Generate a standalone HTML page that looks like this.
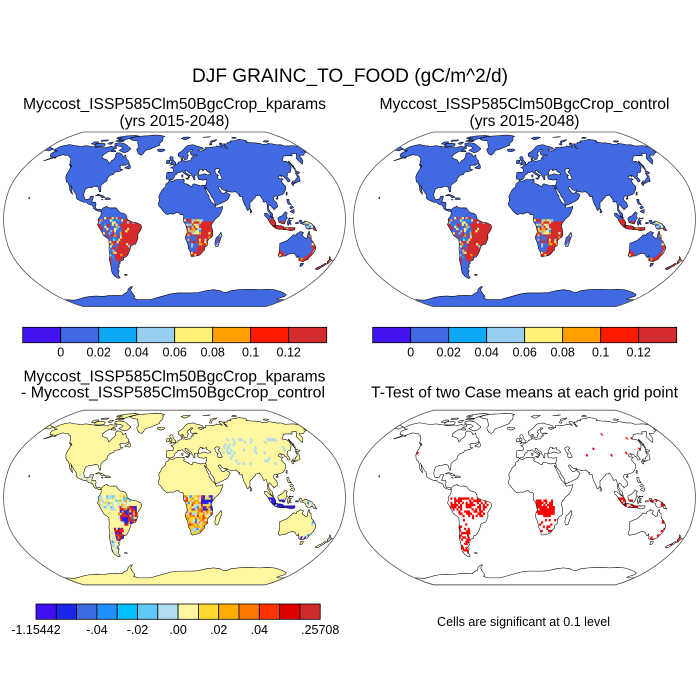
<!DOCTYPE html>
<html><head><meta charset="utf-8"><style>
html,body{margin:0;padding:0;background:#fff;}
svg{display:block;}
text{font-family:"Liberation Sans",Arial,Helvetica,sans-serif;fill:#000;}
</style></head><body>
<svg id="s" width="700" height="700" viewBox="0 0 700 700" xmlns="http://www.w3.org/2000/svg">
<rect width="700" height="700" fill="#fff"/>
<defs><clipPath id="lc"></clipPath></defs>
<g id="maps"></g>

<text x="350" y="82" font-size="19" text-anchor="middle" textLength="316" lengthAdjust="spacingAndGlyphs">DJF GRAINC_TO_FOOD (gC/m^2/d)</text>

<text x="174.5" y="109" font-size="15.6" text-anchor="middle" textLength="303" lengthAdjust="spacingAndGlyphs">Myccost_ISSP585Clm50BgcCrop_kparams</text>
<text x="174.5" y="126" font-size="15.6" text-anchor="middle" textLength="110" lengthAdjust="spacingAndGlyphs">(yrs 2015-2048)</text>
<text x="524.5" y="109" font-size="15.6" text-anchor="middle" textLength="290" lengthAdjust="spacingAndGlyphs">Myccost_ISSP585Clm50BgcCrop_control</text>
<text x="524.5" y="126" font-size="15.6" text-anchor="middle" textLength="110" lengthAdjust="spacingAndGlyphs">(yrs 2015-2048)</text>

<text x="174.5" y="381.5" font-size="15.6" text-anchor="middle" textLength="302" lengthAdjust="spacingAndGlyphs">Myccost_ISSP585Clm50BgcCrop_kparams</text>
<text x="173" y="397.5" font-size="15.6" text-anchor="middle" textLength="304" lengthAdjust="spacingAndGlyphs">- Myccost_ISSP585Clm50BgcCrop_control</text>
<text x="524.5" y="397.5" font-size="15.6" text-anchor="middle" textLength="307" lengthAdjust="spacingAndGlyphs">T-Test of two Case means at each grid point</text>

<text x="523.5" y="626" font-size="12.5" text-anchor="middle" textLength="173" lengthAdjust="spacingAndGlyphs">Cells are significant at 0.1 level</text>

<!-- top-left colorbar -->
<g stroke="#000" stroke-width="0.8">
<rect x="22.7" y="327.3" width="38" height="15.4" fill="#4312f0"/>
<rect x="60.7" y="327.3" width="38" height="15.4" fill="#4169e1"/>
<rect x="98.7" y="327.3" width="38" height="15.4" fill="#0aa8f5"/>
<rect x="136.7" y="327.3" width="38" height="15.4" fill="#96d0ee"/>
<rect x="174.7" y="327.3" width="38" height="15.4" fill="#fff07a"/>
<rect x="212.7" y="327.3" width="38" height="15.4" fill="#ffa000"/>
<rect x="250.7" y="327.3" width="38" height="15.4" fill="#ff1a00"/>
<rect x="288.7" y="327.3" width="38" height="15.4" fill="#d42c2c"/>
</g>
<g font-size="12.5" text-anchor="middle">
<text x="60.7" y="356.5">0</text><text x="98.7" y="356.5">0.02</text><text x="136.7" y="356.5">0.04</text><text x="174.7" y="356.5">0.06</text><text x="212.7" y="356.5">0.08</text><text x="250.7" y="356.5">0.1</text><text x="288.7" y="356.5">0.12</text>
</g>
<!-- top-right colorbar -->
<g stroke="#000" stroke-width="0.8">
<rect x="372.7" y="327.3" width="38" height="15.4" fill="#4312f0"/>
<rect x="410.7" y="327.3" width="38" height="15.4" fill="#4169e1"/>
<rect x="448.7" y="327.3" width="38" height="15.4" fill="#0aa8f5"/>
<rect x="486.7" y="327.3" width="38" height="15.4" fill="#96d0ee"/>
<rect x="524.7" y="327.3" width="38" height="15.4" fill="#fff07a"/>
<rect x="562.7" y="327.3" width="38" height="15.4" fill="#ffa000"/>
<rect x="600.7" y="327.3" width="38" height="15.4" fill="#ff1a00"/>
<rect x="638.7" y="327.3" width="38" height="15.4" fill="#d42c2c"/>
</g>
<g font-size="12.5" text-anchor="middle">
<text x="410.7" y="356.5">0</text><text x="448.7" y="356.5">0.02</text><text x="486.7" y="356.5">0.04</text><text x="524.7" y="356.5">0.06</text><text x="562.7" y="356.5">0.08</text><text x="600.7" y="356.5">0.1</text><text x="638.7" y="356.5">0.12</text>
</g>
<!-- bottom-left colorbar -->
<g stroke="#000" stroke-width="0.8">
<rect x="36" y="604" width="20.3" height="15.3" fill="#4010f0"/>
<rect x="56.3" y="604" width="20.3" height="15.3" fill="#1a26e8"/>
<rect x="76.6" y="604" width="20.3" height="15.3" fill="#3c6ae0"/>
<rect x="96.9" y="604" width="20.3" height="15.3" fill="#1e90ff"/>
<rect x="117.2" y="604" width="20.3" height="15.3" fill="#00bfff"/>
<rect x="137.5" y="604" width="20.3" height="15.3" fill="#60c8f5"/>
<rect x="157.8" y="604" width="20.3" height="15.3" fill="#b0dcf0"/>
<rect x="178.1" y="604" width="20.3" height="15.3" fill="#fff6a0"/>
<rect x="198.4" y="604" width="20.3" height="15.3" fill="#ffd830"/>
<rect x="218.7" y="604" width="20.3" height="15.3" fill="#ffac00"/>
<rect x="239" y="604" width="20.3" height="15.3" fill="#ff7800"/>
<rect x="259.3" y="604" width="20.3" height="15.3" fill="#ff3200"/>
<rect x="279.6" y="604" width="20.3" height="15.3" fill="#e00000"/>
<rect x="299.9" y="604" width="20.3" height="15.3" fill="#d02a2a"/>
</g>
<g font-size="12.5" text-anchor="middle">
<text x="36" y="634">-1.15442</text><text x="96.9" y="634">-.04</text><text x="137.5" y="634">-.02</text><text x="178.1" y="634">.00</text><text x="218.7" y="634">.02</text><text x="259.3" y="634">.04</text><text x="320.2" y="634">.25708</text>
</g>
</svg>
<script>
(function(){
var T=[[1,0],[.9986,.062],[.9954,.124],[.99,.186],[.9822,.248],[.973,.31],[.96,.372],[.9427,.434],[.9216,.4958],[.8962,.5571],[.8679,.6176],[.835,.6769],[.7986,.7346],[.7597,.7903],[.7186,.8435],[.6732,.8936],[.6213,.9394],[.5722,.9761],[.5322,1]];
var HW=171,HH=87.3;
function P(lon,lat){var a=Math.min(Math.abs(lat),90);var i=Math.floor(a/5);if(i>17)i=17;var f=(a-i*5)/5;var X=T[i][0]+(T[i+1][0]-T[i][0])*f;var Y=T[i][1]+(T[i+1][1]-T[i][1])*f;return [HW*X*lon/180,-(lat<0?-1:1)*HH*Y];}
function path(pts){var s='';for(var i=0;i<pts.length;i++){var q=P(pts[i][0],pts[i][1]);s+=(i?'L':'M')+q[0].toFixed(2)+' '+q[1].toFixed(2);}return s+'Z';}
function pairs(f){var r=[];for(var i=0;i<f.length;i+=2)r.push([f[i],f[i+1]]);return r;}

var NA=[-168,65.5,-166,68.5,-162,70,-156,71.3,-152,70.8,-145,70,-141,69.7,-136,69,-130,70,-124,69.5,-117,68.8,-110,68,-103,68,-98,67.8,-95,68.5,-92,69.5,-88,68.5,-85,69.5,-82,67,-86,66.5,-87,64,-90,63.8,-93,61.5,-94.5,59,-92.5,57,-88,56,-85,55.3,-82,53,-80.5,51.5,-79,54.5,-77,56,-76.5,58,-78,60.5,-78,62.5,-74,62.3,-70,61,-67,58.5,-64.5,60.3,-61.5,56.5,-58,54.5,-56,52,-59,50.2,-64,50.3,-66.5,49.3,-65,48.5,-64.5,46.5,-61,46,-63.5,44.7,-66,44,-70,43.5,-70,41.7,-74,40.5,-75.5,38.5,-76,37,-75.5,35.5,-77.5,34.3,-79,33.3,-81,31.5,-80.2,27,-80,25.5,-81.2,25.3,-82.6,27.8,-84,30,-86,30.4,-89,30.2,-90.5,29.2,-94,29.5,-97.2,27.8,-97.5,25,-97.8,22.5,-96,19,-94.5,18.2,-91,18.8,-90.3,21,-87,21.5,-87.5,18,-88.3,15.8,-84,15.8,-83.3,14,-83.7,11,-82,9,-79.5,9.5,-77.5,8.5,-78,7.2,-80,7.3,-81,7.8,-83,8.3,-85.7,10,-85.7,11.2,-87.5,13,-91.5,14,-94,16,-96.5,15.7,-100,16.9,-103.5,18.3,-105.5,20,-105.2,21.8,-106,23,-108.5,25.3,-112,28.8,-114.8,31.8,-113.5,30.5,-112.5,28,-111,25.5,-109.9,22.9,-112,24.8,-114.2,27.2,-115,29.8,-117.1,32.5,-118.5,34,-120.6,34.6,-122.4,37.2,-123.8,39.5,-124.3,42,-124,46,-124.7,48.4,-123,48.5,-126,50,-128,51,-130,54,-133,57,-137,58.5,-140,59.8,-144,60,-148,60.5,-152,59,-154,58,-158,56.5,-162,55,-164.5,54.5,-160,56.5,-157.5,58.5,-162,58.7,-164.5,60.5,-165.5,62,-164.5,63.2,-161,64.5,-165,64.5];
var SA=[-77.5,8.5,-75.5,10.5,-73,11.5,-71.5,12.4,-71,11,-68,10.5,-64,10.6,-61.5,10.5,-60,8.5,-57,6,-54,5.7,-51.5,4.5,-50,1.8,-50,0,-48,-1,-44.5,-2.5,-41,-3,-38.5,-3.7,-35.3,-5.2,-34.8,-7.5,-35.5,-9.5,-37.5,-12,-39,-14,-39,-17.5,-40.5,-20.5,-42,-23,-44.5,-23.3,-47.5,-25,-48.5,-28,-50,-30.5,-52.5,-33.5,-54,-34.7,-57,-35.5,-57.5,-37.5,-62,-39,-62.5,-41,-65,-42,-64,-43,-65.5,-45,-67.5,-46,-66,-47.5,-68.5,-50.5,-69,-52.3,-68,-54.5,-71,-55,-74,-53,-75.5,-50,-75,-47,-74,-43.5,-73.5,-40,-73.5,-37,-71.5,-32.5,-71.5,-28,-70.5,-24,-70.2,-19,-71.5,-17.5,-75.5,-15,-77,-12,-79.5,-7.5,-81.2,-5,-80,-2.5,-80.5,-0.5,-79.8,1,-78.8,1.8,-77.5,4,-77.3,7];
var EU=[-9,37,-9.5,39,-8.8,42,-9,43.2,-7,43.6,-2,43.4,-1.4,44.5,-1.2,46,-2.5,47.3,-4.5,47.9,-1.8,48.7,-1.5,49.7,0.2,49.7,1.6,50.9,3.5,51.4,4.5,52.5,5,53.3,7,53.5,8.5,53.8,8.6,55.5,8.2,57,10.5,57.7,10.8,56,10,55.5,11,54.4,13,54.4,14.5,53.9,17,54.6,19.5,54.4,21,55.5,21.2,57,22.5,57.6,24,57.2,24.3,57.8,23.5,58.8,24.5,59.4,28,59.5,30,59.9,29,60.2,26.5,60.4,23,59.9,21.5,61,21.2,62.5,22,63.5,25,65,25.5,65.5,22.5,65.8,21.5,64.5,19.5,63.5,17.5,62.3,17,61,18.5,60,16.5,57.5,16.5,56.3,14.3,55.6,12.8,55.6,12.3,56.5,11,58.9,10,59,8,58.1,6,58.3,5,59.5,5,61.8,7.5,63,10,64,12,65.5,14,67,16,68.5,19,70,23,70.6,26,71,28.5,70.9,31,70,33,69.3,36,69,40,67.8,41,66.5,38,66,34.5,66,33,65.5,35,64.3,37,64,37.5,64.8,40,64.6,42,66.4,44,66,44.5,68.3,46,68,50,68,53.5,68.5,55,68.3,58,68.8,60,69,61,69.8,64,69.3,67,69,68.5,68.2,68.5,69.6,66.8,70.8,67,72,69,73,71,72.8,72.5,71.5,72.3,70,73.5,68.5,73,67,75,67,75,68.5,73.7,70,74.5,72.5,76,71.8,78,72.2,79.5,72.2,80.8,73.6,86.8,73.8,86,74.5,87.5,75.3,91,75.8,95,76,99,76.3,101,77,105,77.5,107,77,111,76.6,113.5,75.8,112.5,74.3,110,74,113,73.7,119,73.1,124,73.3,126.7,72.5,128.5,72.9,131,71.6,133,71.4,136,71.5,139,71.8,141,72.6,145,72.3,150,71.5,152,70.9,156,71.1,159,70.8,160.8,69.6,164,69.7,168,69.8,170.5,70,173,69.9,176,69.8,180,68.9,180,65,178,64.5,179,63,174,61.8,170.5,60,166,60,164,59.8,163,57.5,162,55.5,160,53.5,158.5,52.8,156.5,51,155.8,53.5,156,57,158,58,161,60.2,163.5,62,160,61.6,157,61.7,154,59.2,150,59.6,145,59.3,142,59,138.5,56.5,135,54.7,137,53.8,139.5,54,141,52.5,140.5,50,140,48.3,138.5,47,135,43.5,132,43,130.5,42.5,129.7,40.8,128,39.5,129.3,37,129.4,35.3,126.5,34.4,126.3,36.8,126.2,37.8,125,37.7,124.7,39.6,122,40.3,121.5,39,121.3,40.9,119,39.5,118,39.2,117.7,38.3,119.6,37.2,121,37.7,122.5,37,120.5,36,119.3,34.8,120.8,32,121.8,31,121.8,29.5,121.4,28,119.6,25.8,118.5,24.5,116.5,23,114,22.3,111,21.5,110.4,20.3,109.6,21.6,107.7,21.5,106.5,20.3,105.7,18.8,106.8,17,108.7,15.2,109.3,12.6,109.2,11.5,107,10.3,105,8.7,105,10,103.5,10.5,102.5,12.2,100.5,13.5,100,12.5,99.2,10,100.2,8.4,101.3,6.8,103.4,4.9,103.4,2.6,104.2,1.4,103.5,1.3,101.3,2.8,100.3,5.5,98.5,8,98.3,10,98.5,13,97.8,16.5,97.3,16.5,95.4,15.8,94.3,16.3,94.5,17.8,93.5,19.5,92,21.5,91.5,22.8,90.5,22,89,21.8,87,21.5,86.5,20,85,19.3,82.2,16.5,80.3,15.5,80,11.5,79.8,10.3,78.2,8.8,77.5,8,76.5,8.9,75.7,11.3,74.7,13,73.4,16,72.8,19,72.7,21.2,70.5,20.8,69,22.3,70.5,23,68.5,23.5,67.2,24.7,66.4,25.5,64.5,25.2,61.5,25.1,59.6,25.4,57.4,25.7,56.4,27.1,54.8,26.5,53.5,26.8,51.5,27.9,50.1,30.1,48.6,29.9,48,29,48.8,27.6,50.1,26.2,50.8,24.8,51.6,24.2,52.6,24.2,54.1,24.1,56.3,26.2,56.4,24.9,57.4,23.9,58.7,23.6,59.8,22.4,58.5,20.4,57.8,19.1,55.3,17.2,52.2,15.9,49.6,14.7,45.6,13.3,43.5,12.6,42.8,15,42.6,16.8,41.2,19,39.2,21.5,38.5,23.7,37.2,25,35.6,27.4,34.6,28.1,34.9,29.5,34.3,31.2,34.9,32.8,35.5,34,36,34.6,35.9,35.4,36.2,36.7,34.7,36.8,32.5,36.1,30.6,36.7,29.2,36.5,27.6,36.7,26.3,38.2,26.8,39,26.2,39.5,27,40.4,29,41,31.1,41.1,33.5,42,35.2,42,38.3,40.9,41.6,41.5,41.5,42.6,39,44,37.5,44.7,38.2,46.2,35,45.6,33.5,45,32.5,45.4,33.6,46,31.7,46.3,30.7,46.6,29.6,45.3,28.7,44.4,28,43.3,27.7,42.6,28,41.6,26.3,40.9,23.8,40.7,22.6,40.3,22.8,39.7,23.4,39,22.8,37.3,23,36.5,21.7,36.8,21.3,37.6,21,39,20,39.8,19.4,41.7,18.4,42.5,16,43.5,14.5,45.3,13.7,45.1,12.4,45.4,12.3,44.6,13.9,42.5,16.2,41.7,18.5,40.2,17.2,40.5,16.6,39.6,17.1,39,16.1,38,15.6,38.2,15.8,39.5,14.2,40.8,12.2,41.7,10.5,42.9,9,44.3,7.5,43.8,6.2,43.1,4.5,43.4,3.1,43.1,3.2,42,0.8,41,0,39.5,-0.5,38.3,-2.1,36.7,-4.4,36.7,-5.5,36,-6.5,36.9,-7.5,37.2];
var AF=[-5.9,35.8,-2,35.1,1,36.5,3,36.8,8.5,36.9,10.2,37.2,11,36.8,10.5,36.3,11.1,35.2,10,34.2,11.5,33.1,15.2,32.3,15.7,31.4,19,30.3,20,31,20,32.2,21.5,32.8,25,31.9,29,30.9,31,31.6,32.2,31.3,34.2,31.3,34.9,29.5,34.2,28,32.6,29.8,33.5,27.5,34.6,26,35.6,23.2,36.9,22,37.2,19,38.4,18,39.3,15.9,41.2,14.5,43.1,12.7,43.5,11.3,44.6,10.4,47.7,11.1,51.1,11.9,51.1,10.6,50.3,9,48.6,5.3,46.6,2.9,43.1,0.3,41.5,-1.7,40,-3.3,39.2,-4.7,38.7,-6.5,39.5,-8,40.3,-10.3,40.5,-14,40.8,-14.7,39.5,-16.7,37.4,-17.6,35.3,-20,35.5,-22,35.5,-24,32.8,-25.7,32.6,-28.5,31.3,-29.4,30,-31,28.2,-32.8,26.4,-33.6,25,-33.8,22.6,-33.9,20,-34.8,18.4,-34,18.2,-32.4,17.6,-30.7,16.3,-28.6,15.2,-27.1,14.3,-22.7,13.4,-20.9,11.8,-18,11.6,-16.7,12.2,-14.4,13.6,-12,13.2,-9.8,12.9,-8.6,12.2,-6.3,11.9,-5,11.1,-3.9,9.4,-2.1,9.3,0.2,9.8,3,9.4,3.7,8.5,4.5,6.7,4.2,5.5,4.9,4.3,6.3,1.9,6.1,-0.5,5.3,-2,4.7,-4,5.2,-7.5,4.3,-9,5,-11.4,6.8,-13.2,8.8,-14.8,10.8,-16.6,12.2,-17.2,14.9,-16.5,16.1,-16.1,18.1,-16.3,19.1,-17,21,-15,24.5,-13.9,26.6,-12.6,28,-9.8,29.9,-9.6,32.5,-6.9,34.1];
var AU=[113.4,-22,114,-26,115,-30,115,-33.6,117.7,-35.1,119.9,-34,123.5,-33.9,126,-32.3,129,-31.6,131.3,-31.5,134,-32.6,135.9,-34.9,137.5,-35.2,138,-33.5,138.4,-34.6,139.6,-36.1,140.6,-38,143.5,-38.8,146.3,-39.1,148,-37.8,150,-37.4,150.7,-35,152.9,-31.6,153.6,-28,153,-25.3,151,-23.4,149.4,-21.4,146.4,-19,145.4,-16,145.3,-14.9,143.6,-14,142.5,-10.7,141.5,-13.5,141.6,-17,140.2,-17.7,137.9,-16.3,135.5,-14.8,136.8,-12.2,133,-11.2,132.4,-12.2,130,-12.9,129.3,-15,127.8,-14.3,125.8,-14.5,124.4,-16.3,122.3,-17.9,121,-19.5,117.5,-20.7,114.7,-21.8];
var ANT=[-180,-78,-165,-78.5,-150,-76.5,-140,-75,-130,-74,-120,-73.5,-110,-74,-100,-73,-90,-72.8,-80,-73,-75,-71,-68,-69,-65,-66,-60,-63.5,-57,-63.3,-60,-65,-62,-67,-62,-70,-61,-74,-65,-76,-60,-78,-50,-78,-40,-78,-35,-77,-25,-75,-15,-73,-5,-71,5,-70,15,-70,25,-70,35,-69.5,45,-67.5,55,-66.5,65,-67.5,70,-69,75,-69.5,80,-67.5,90,-66.5,100,-66,110,-66,120,-66.5,130,-66,140,-66.5,150,-68,160,-70,168,-72,170,-74,165,-77,170,-78,180,-78,180,-84,180,-90,0,-90,-180,-90,-180,-84];
var ISL=[
[-61.5,66.5,-64,63.5,-68,62.5,-72,63.5,-77,65,-73,67.5,-77,69,-82,69.5,-88,70.5,-90,72.5,-84,73.5,-76,72.5,-70,70.5,-67,69,-62,67],
[-118,70.5,-117,72.5,-110,73,-104,72,-102,69.5,-107,68.8,-115,69],
[-125,72,-124,74.3,-118,74.5,-116,73,-120,71.5],
[-90,77,-80,76.5,-75,78.5,-70,80,-62,82,-70,83,-85,82,-92,80.5],
[-92,75,-80,74.5,-80,76,-90,76.5],
[-115,75,-105,75.5,-106,76.8,-116,76.5],
[-95,78,-87,79,-90,81,-96,80],
[-100,72,-95,71.5,-94,74,-99,74],
[-86,63.5,-80,63.5,-83,65.5,-87,65.5],
[-73,78,-66,76,-58,75.5,-55,72,-53,70,-51,68,-53,66,-50,63,-47,60.8,-43.5,60,-42,61.5,-40,65,-35,66,-28,68.5,-22,70.5,-22,73,-19,75,-18.5,78,-20,80,-17,81.5,-25,83,-35,83.6,-45,82.5,-55,82,-62,81.5,-68,80,-73,78.5],
[-24,65.5,-22,66.4,-18,66.2,-14.5,66.2,-13.5,65,-15,64.3,-18,63.4,-21,63.8,-22.5,64],
[-5.7,50,-3,50.6,1.4,51.2,1.7,52.7,0.2,53.4,-0.5,54.5,-2,55.8,-1.8,57.6,-3.3,58.6,-5,58.6,-6.2,57.5,-5.6,56,-4.8,54.9,-3.4,54.9,-3,53.4,-4.5,53.2,-4.2,52.3,-5.3,51.7,-3,51.3],
[-6,52.2,-6.2,53.9,-5.7,54.8,-8.3,55.2,-10,54.2,-10,51.8,-8,51.6],
[11,78.5,16,80,22,80.4,27,80,22,78.2,16.5,76.6,13,78],
[52,71.5,55,73.5,57,75.3,62,76.2,68.5,77,64,75.3,58,74,56,72.5,55.5,71,53,70.8],
[95,79,100,80.3,104,79.3,98,78.3],
[138,74.5,142,75.8,148,75.3,142,73.8],
[48,80,62,81,58,80.2],
[-85,21.9,-82,23.1,-77.5,22,-74.2,20.2,-77.7,19.9,-80,21.8],
[-74.5,18.4,-72.8,19.9,-69.8,19.7,-68.4,18.6,-71,18.2],
[-78.3,18.4,-76.3,18.2,-77,17.8],
[95,5.8,97.5,5.4,100.5,2.8,104.5,0.2,106.6,-3,106.6,-6.6,104,-6.6,101.5,-4.2,99.5,-1.7,98,0.8,95,3.5],
[105,-5.8,106,-5.3,108.5,-5.6,110.5,-6,112.6,-6,115.2,-7,115.2,-9.4,110,-9.2,106.5,-8.2,105,-7.3],
[115.2,-7.6,119,-7.8,123,-7.6,125,-7.8,127.2,-7.6,127.2,-9.6,123,-10.6,119,-9.6,115.2,-9.5],
[109,1.5,110,1.7,111.2,2.7,113,3.2,115.5,5.5,117,7,119,5.4,117.7,4.2,118,2.3,119,1,117.9,0.8,117.4,-0.8,116.5,-2.5,116,-3.9,114.8,-4.4,113,-3.6,111.7,-3.4,110.2,-3.2,109.6,-1.5,108.8,0],
[119.5,-5.5,120.4,-5.5,120.8,-2.5,121.8,-4.8,123,-4.7,122.5,-3.2,121.4,-1.9,123.3,-1,121.3,-0.9,120.2,0.3,121,1.3,124.4,0.4,125,1.5,124,0.9,120.5,0.5,119.8,-0.3,118.8,-2.8],
[131,-1.3,133.5,-0.7,135,-3.4,137.5,-1.5,141,-2.6,145,-4.3,146.5,-6,147.8,-6.5,148.5,-8,150.5,-10.6,147.5,-10,146,-8,143.3,-9,141,-9.1,139,-8.1,138,-5.4,135,-4.4,133,-4,132,-2.8],
[127.5,-3,130.5,-3,130.5,-4,127.5,-4],
[120,18.5,122.3,18.4,122,16,124,13.5,122.5,13.8,121,13.8,120.6,14.5,120,16.5],
[122,7,124,8.5,126.5,9,126.3,6.3,125.5,5.6,124,6.5],
[122,11,124,12.5,126,11,124,9.8,122.5,10],
[120.1,23,121,25.2,121.9,25,121,22],
[108.6,19.2,110.5,20.1,111,19.5,109.5,18.2],
[130.9,34,132.5,35.5,135.5,35.6,136.8,37.3,138.5,37.9,140,39.7,140,41.3,141.5,41.2,142,39.5,140.9,37,140.8,35.6,139,34.7,137,34.5,135,33.5,133,34.2],
[129.6,33.4,131,34,132,33,131,31,130.2,31.3],
[140,41.5,141.5,42.6,143.5,42,145.5,43.3,141.8,45.4,141.5,43.3,140,42.5],
[132.5,33,134.5,34.2,134,33.3],
[142,46,143.5,46.5,143,49.5,144,49,143,52,143,54.2,142.2,54,142,51],
[79.8,6,80,9.8,81,8.5,81.8,7,80.6,5.9],
[49.3,-12,50.5,-15.2,49.5,-17,48,-22,47,-25,45,-25.5,43.6,-23.5,43.5,-21.8,44.4,-17,46.3,-15.8,48,-13.7],
[144.7,-40.7,148.3,-40.9,148,-43.2,146,-43.6],
[172.7,-34.4,174.3,-35.3,175.9,-37.4,178.5,-37.7,177,-39.3,176,-41.3,175,-41.5,174.6,-39.9,173.8,-39.2,174.6,-37.5],
[172.8,-40.5,174.3,-41.7,173.2,-43.4,171.4,-44.5,170.6,-45.9,169.3,-46.6,166.7,-46.2,166.5,-45.3,168.3,-44.1,170.5,-43,172,-41.5],
[12.4,38,15.6,38.3,15.1,36.7],
[8.2,41,9.8,41,9.6,39,8.4,39],
[-180,68.9,-175,67.5,-171,66.8,-169.7,66,-172,65.5,-173,64.3,-176,65,-180,65],
[-59.5,47.6,-56,49.5,-55.5,51.6,-53,49,-52.7,47.5,-53.6,46.6,-55.5,47],
[-128.3,50.8,-125,50,-123.4,48.4,-125,48.9],
[-61.3,-51.2,-58,-51.2,-58.5,-52.2,-61,-52],
[-156,20.8,-155,19.2,-155.8,18.9,-156,19.8],
[-153.5,57.9,-152.2,57.5,-154,56.8]
];
var LAND=[NA,SA,EU,AF,AU,ANT].concat(ISL);
var LP=LAND.map(function(f){return path(pairs(f));});
var CASP=path(pairs([47,45,49,46.5,51,47,53,46.7,53,45,51,44.5,51.3,43,52.7,41.8,53,40,53.9,37.5,51,36.8,49,37.5,49.3,40.3,50.3,40.4,48.5,41.8,47.5,43,47.5,44.5]));
var o=[],la;for(la=-90;la<=90;la+=2.5)o.push([180,la]);for(la=90;la>=-90;la-=2.5)o.push([-180,la]);
var OUT=path(o);

document.getElementById('lc').innerHTML=LP.map(function(d){return '<path d="'+d+'"/>';}).join('');

function rng(a){return function(){a|=0;a=a+0x6D2B79F5|0;var t=Math.imul(a^a>>>15,1|a);t=t+Math.imul(t^t>>>7,61|t)^t;return((t^t>>>14)>>>0)/4294967296;};}
function pip(x,y,poly){var c=false;for(var i=0,j=poly.length-1;i<poly.length;j=i++){var xi=poly[i][0],yi=poly[i][1],xj=poly[j][0],yj=poly[j][1];if(((yi>y)!=(yj>y))&&(x<(xj-xi)*(y-yi)/(yj-yi)+xi))c=!c;}return c;}
function cells(poly,w,seed,st){st=st||2;var r=rng(seed);var mnx=1e9,mxx=-1e9,mny=1e9,mxy=-1e9;poly.forEach(function(p){mnx=Math.min(mnx,p[0]);mxx=Math.max(mxx,p[0]);mny=Math.min(mny,p[1]);mxy=Math.max(mxy,p[1]);});
 var acc={},order=[];
 for(var lo=Math.floor(mnx/st)*st;lo<mxx;lo+=st)for(var lt=Math.floor(mny/st)*st;lt<mxy;lt+=st){
  if(!pip(lo+st/2,lt+st/2,poly))continue;var v=r(),s=0,col=null;
  for(var k=0;k<w.length;k++){s+=w[k][1];if(v<s){col=w[k][0];break;}}
  if(!col)continue;var e=0.1;
  var q=[[lo-e,lt-e],[lo+st+e,lt-e],[lo+st+e,lt+st+e],[lo-e,lt+st+e]];
  if(!(col in acc)){acc[col]='';order.push(col);}acc[col]+=path(q);}
 return order.map(function(c){return '<path d="'+acc[c]+'" fill="'+c+'"/>';}).join('');}

var BL='#4169e1',RD='#d42c2c',RR='#ff1a00',YE='#fff07a',OR='#ffa000',LB='#96d0ee',CY='#0aa8f5';
var SAW=[[-81,-2],[-76,1.5],[-68,2],[-60,2],[-52,0],[-52,-5],[-56,-15],[-60,-24],[-66,-30],[-72,-42],[-76,-42],[-73,-30],[-72,-18],[-78,-10],[-81,-5]];
var SAR=[[-50,0],[-44,-2],[-38,-3.5],[-34,-6],[-34,-10],[-38,-15],[-39,-21],[-44,-23.5],[-48,-26],[-50,-30],[-54,-34.5],[-58,-36],[-62,-39.5],[-66,-38.5],[-67,-32],[-62,-26],[-58,-22],[-56,-15],[-55,-5],[-53,-1]];
var AFR=[[8,0],[20,0],[30,-1],[42,-2],[41,-12],[40,-17],[36,-22],[33,-28],[29,-35],[19,-36],[16,-30],[11,-17],[11,-5]];
var AFNW=[[8,0],[29,0],[29,-16],[11,-16]];
var AFSW=[[12,-17],[22,-16],[26,-19],[26,-25],[22,-31],[16,-29],[13,-22]];
var MAD=[[42,-11],[52,-11],[52,-27],[42,-27]];
var IND=[[98,1],[103,0],[108,-1.5],[112,-2.8],[117,-3],[119,-5],[124,-6.8],[128,-6.8],[128,-11],[114,-10],[105,-8.2],[101,-5],[97,-1]];
var NGM=[[118,-1],[152,-1],[152,-11],[128,-11],[128,-6.8]];
var AUE=[[142,-10],[146,-15],[150,-21],[154,-27],[154,-33],[150,-38],[146,-40],[141,-39],[138,-36],[141,-35.5],[146,-36],[149,-33],[150,-28],[148,-22],[145,-17],[143,-13]];
var AUSW=[[113,-26],[117,-29],[121,-32],[124,-34],[118,-36],[114,-35],[113,-30]];
var NZ=[[166,-34],[179,-34],[179,-48],[166,-48]];

function topLayers(sd){return cells(SAW,[[BL,.5],[RD,.15],[YE,.14],[LB,.1],[OR,.06],[CY,.05]],sd+1)+
 cells(SAR,[[RD,.9],[RR,.03],[YE,.03],[LB,.02],[OR,.02]],sd+2)+
 cells(AFR,[[RD,.85],[RR,.04],[YE,.04],[LB,.04],[OR,.03]],sd+3)+
 cells(AFNW,[[RD,.35],[YE,.2],[LB,.2],[OR,.1],[BL,.1],[CY,.05]],sd+4)+
 cells(AFSW,[[BL,.7],[RD,.2],[LB,.1]],sd+5)+
 cells(MAD,[[BL,.5],[RD,.25],[LB,.15],[YE,.1]],sd+6)+
 cells(IND,[[RD,.82],[RR,.08],[YE,.05],[OR,.05]],sd+7)+
 cells(NGM,[[BL,.55],[RD,.2],[YE,.13],[LB,.12]],sd+8)+
 cells(AUE,[[RD,.75],[RR,.05],[YE,.08],[LB,.07],[OR,.05]],sd+9)+
 cells(AUSW,[[RD,.5],[OR,.2],[YE,.2],[BL,.1]],sd+10)+
 cells(NZ,[[RD,.5],[OR,.2],[YE,.15],[BL,.15]],sd+11);}

var V1='#4010f0',B1='#1a26e8',B3='#1e90ff',B5='#60c8f5',LB2='#b0dcf0',PY='#fff6a0',Y1='#ffd830',O1='#ffac00',O2='#ff7800',R1='#ff3200',R2='#e00000',R3='#d02a2a';
function diffLayers(){return cells([[55,56],[130,56],[130,28],[70,28],[55,40]],[[LB2,.15]],101,2.5)+
 cells([[-110,25],[-85,25],[-85,10],[-110,10]],[[LB2,.2]],102)+
 cells([[-80,2],[-50,2],[-45,-3],[-45,-10],[-63,-12],[-78,-10],[-81,-3]],[[LB2,.4],[PY,.35],[B5,.1],[Y1,.1],[O1,.05]],103)+
 cells([[-58,-8],[-40,-8],[-39,-20],[-46,-24],[-52,-26],[-60,-20]],[[R3,.35],[R2,.15],[B1,.12],[V1,.08],[O2,.1],[B3,.05],[Y1,.07],[LB2,.08]],104)+
 cells([[-56,-13],[-49,-13],[-49,-22],[-56,-22]],[[V1,.35],[B1,.35],[R3,.3]],105)+
 cells([[-66,-27],[-56,-27],[-56,-39],[-66,-39]],[[R3,.4],[R2,.2],[B1,.12],[V1,.08],[O2,.1],[LB2,.1]],106)+
 cells([[-76,-30],[-68,-30],[-66,-52],[-76,-52]],[[LB2,.3],[B3,.1],[PY,.6]],107)+
 cells([[8,2],[42,2],[42,-12],[36,-24],[33,-29],[28,-35],[18,-35],[12,-18],[9,-5]],[[Y1,.25],[O1,.2],[LB2,.2],[PY,.15],[O2,.1],[R1,.05],[B3,.05]],108)+
 cells([[26,2],[40,2],[40,-12],[30,-12]],[[B1,.3],[V1,.15],[R3,.2],[Y1,.15],[LB2,.2]],109)+
 cells([[14,-14],[34,-14],[34,-19],[14,-19]],[[O2,.35],[R1,.25],[Y1,.2],[LB2,.2]],110)+
 cells(IND,[[V1,.5],[B1,.3],[LB2,.1],[PY,.1]],111)+
 cells(NGM,[[LB2,.3],[PY,.6],[B3,.1]],112)+
 cells(AUE,[[LB2,.35],[B3,.15],[PY,.5]],113)+
 cells([[139,-35],[150,-35],[150,-40],[139,-40]],[[B1,.5],[V1,.2],[R3,.1],[PY,.2]],114)+
 cells([[114,-31],[117,-31],[117,-35],[114,-35]],[[R3,.4],[PY,.6]],115)+
 cells(NZ,[[LB2,.3],[PY,.7]],116);}

var RED='#ff0000';
function ttLayers(){return cells([[-78,0],[-50,1],[-38,-4],[-40,-18],[-55,-20],[-65,-18],[-78,-10]],[[RED,.5]],201)+
 cells([[-74,-18],[-64,-20],[-60,-30],[-63,-42],[-70,-54],[-76,-46]],[[RED,.55]],202)+
 cells([[12,-2],[30,-2],[32,-15],[22,-18],[12,-14]],[[RED,.97]],203)+
 cells([[12,-15],[36,-15],[33,-30],[28,-35],[18,-35]],[[RED,.22]],204)+
 cells(IND,[[RED,.7]],205)+
 cells(NGM,[[RED,.3]],206)+
 cells(AUE,[[RED,.25]],207)+
 cells([[143,-37],[148,-37],[148,-40],[143,-40]],[[RED,.8]],208)+
 cells(NZ,[[RED,.35]],209)+
 cells([[70,62],[140,62],[140,35],[70,35]],[[RED,.015]],210)+
 cells([[-125,50],[-100,50],[-100,25],[-125,25]],[[RED,.02]],211);}

function panel(cx,cy,base,layers){
 var s='<g transform="translate('+cx+','+cy+')">';
 if(base)s+=LP.map(function(d){return '<path d="'+d+'" fill="'+base+'"/>';}).join('');
 s+='<g clip-path="url(#lc)">'+layers+'</g>';
 s+='<path d="'+CASP+'" fill="#fff"/>';
 s+='<path d="'+LP.join('')+'" fill="none" stroke="#000" stroke-width="0.55" stroke-linejoin="round"/>';
 s+='<path d="'+CASP+'" fill="none" stroke="#000" stroke-width="0.55"/>';
 s+='<path d="'+OUT+'" fill="none" stroke="#555" stroke-width="0.8"/>';
 return s+'</g>';}

document.getElementById('maps').innerHTML=
 panel(174.5,219.3,BL,topLayers(10))+
 panel(524.5,219.3,BL,topLayers(10))+
 panel(174.5,497.5,PY,diffLayers())+
 panel(524.5,497.5,null,ttLayers());
})();
</script>
</body></html>
